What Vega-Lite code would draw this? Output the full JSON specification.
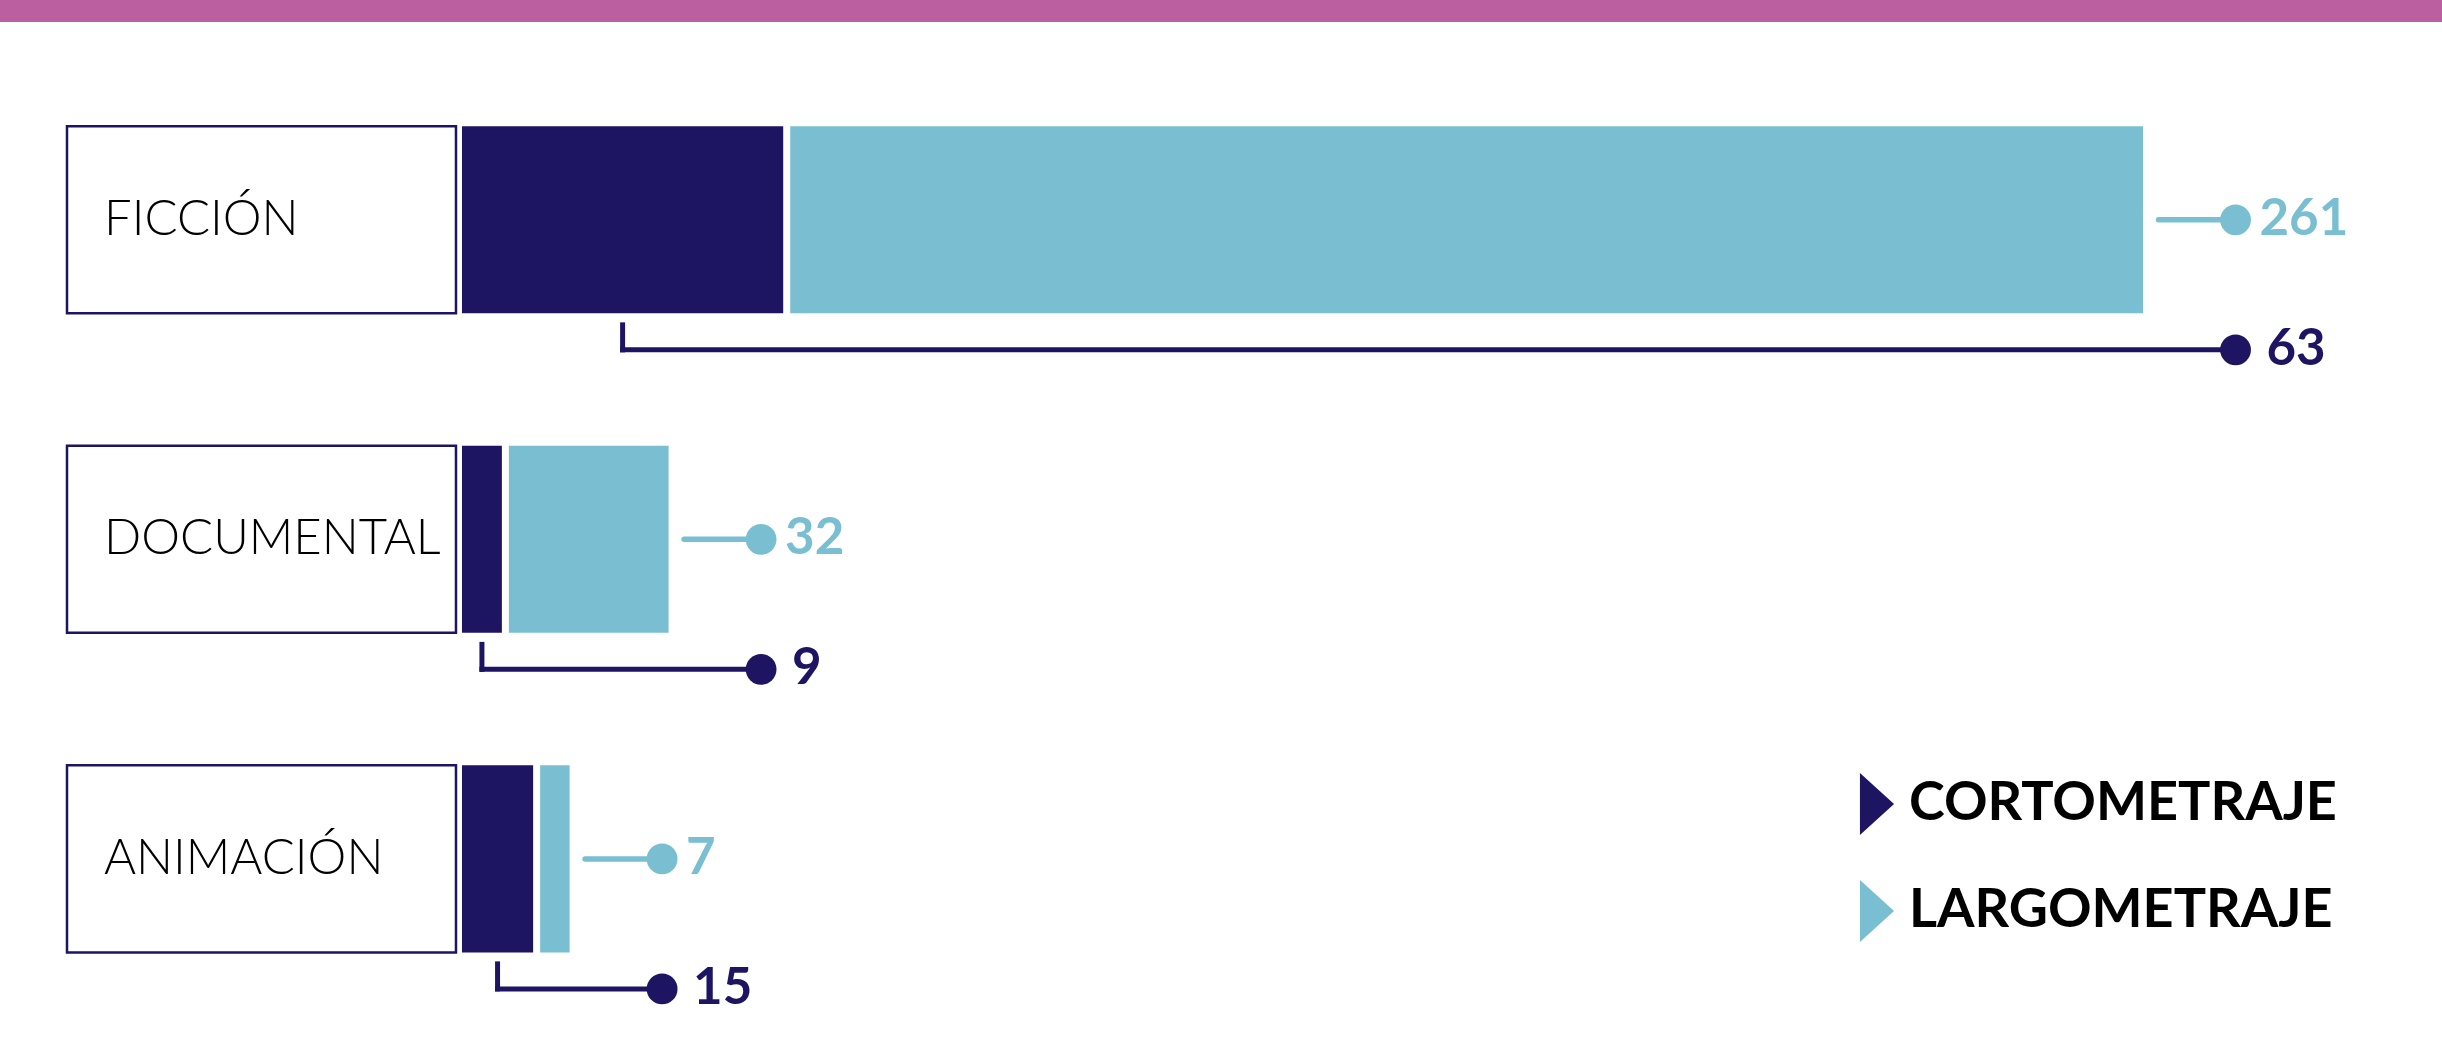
{
  "$schema": "https://vega.github.io/schema/vega-lite/v6.json",
  "width": 2442,
  "height": 1061,
  "autosize": {"type": "fit", "contains": "padding"},
  "padding": {"top": 22, "left": 0, "right": 0, "bottom": 0},
  "background": "#BB5FA0",
  "config": {"view": {"fill": "#FFFFFF", "stroke": null}, "font": "Lato"},
  "data": {
    "values": [
      {"categoria": "FICCIÓN", "tipo": "CORTOMETRAJE", "obras": 63},
      {"categoria": "FICCIÓN", "tipo": "LARGOMETRAJE", "obras": 261},
      {"categoria": "DOCUMENTAL", "tipo": "CORTOMETRAJE", "obras": 9},
      {"categoria": "DOCUMENTAL", "tipo": "LARGOMETRAJE", "obras": 32},
      {"categoria": "ANIMACIÓN", "tipo": "CORTOMETRAJE", "obras": 15},
      {"categoria": "ANIMACIÓN", "tipo": "LARGOMETRAJE", "obras": 7}
    ]
  },
  "transform": [
    {"joinaggregate": [{"op": "sum", "field": "obras", "as": "total"}], "groupby": ["categoria"]},
    {"stack": "obras", "groupby": ["categoria"], "sort": [{"field": "tipo", "order": "ascending"}], "as": ["o0", "o1"]}
  ],
  "encoding": {
    "y": {
      "field": "categoria",
      "type": "nominal",
      "sort": ["FICCIÓN", "DOCUMENTAL", "ANIMACIÓN"],
      "scale": {"paddingInner": 0.4147, "paddingOuter": 0.3333, "align": 0.49},
      "axis": null
    }
  },
  "layer": [
    {
      "transform": [{"filter": "datum.tipo === 'CORTOMETRAJE'"}],
      "mark": {"type": "bar", "fill": "#FFFFFF", "stroke": "#1D1462", "strokeWidth": 2.5},
      "encoding": {
        "x": {"datum": -75.14, "type": "quantitative", "scale": {"domain": [-88.0, 380.71], "nice": false, "zero": false}, "axis": null},
        "x2": {"datum": -0.48}
      }
    },
    {
      "transform": [{"filter": "datum.tipo === 'CORTOMETRAJE'"}],
      "mark": {"type": "text", "align": "left", "baseline": "middle", "font": "Lato", "fontWeight": 300, "fontSize": 49, "color": "#000000"},
      "encoding": {
        "x": {"datum": -68.04, "type": "quantitative", "scale": {"domain": [-88.0, 380.71], "nice": false, "zero": false}, "axis": null},
        "text": {"field": "categoria", "type": "nominal"}
      }
    },
    {
      "mark": {"type": "bar", "xOffset": 3.5, "x2Offset": -3.5},
      "encoding": {
        "x": {"field": "o0", "type": "quantitative", "scale": {"domain": [-88.0, 380.71], "nice": false, "zero": false}, "axis": null},
        "x2": {"field": "o1"},
        "color": {
          "field": "tipo",
          "type": "nominal",
          "scale": {"domain": ["CORTOMETRAJE", "LARGOMETRAJE"], "range": ["#1D1462", "#79BFD1"]},
          "legend": {
            "orient": "none",
            "legendX": 1846,
            "legendY": 751,
            "title": null,
            "symbolType": "M-0.55,-1L0.55,0L-0.55,1Z",
            "symbolSize": 3844,
            "symbolStrokeWidth": 0,
            "symbolOpacity": 1,
            "labelFont": "Lato",
            "labelFontSize": 54,
            "labelFontWeight": "bold",
            "labelColor": "#000000",
            "labelLimit": 0,
            "labelOffset": 1,
            "rowPadding": 45,
            "padding": 0
          }
        }
      }
    },
    {
      "transform": [{"filter": "datum.tipo === 'LARGOMETRAJE'"}],
      "layer": [
        {
          "mark": {"type": "rule", "color": "#79BFD1", "strokeWidth": 5.5, "strokeCap": "round", "xOffset": 12, "x2Offset": 89},
          "encoding": {
            "x": {"field": "o1", "type": "quantitative", "scale": {"domain": [-88.0, 380.71], "nice": false, "zero": false}, "axis": null},
            "x2": {"field": "o1"}
          }
        },
        {
          "mark": {"type": "point", "filled": true, "opacity": 1, "strokeWidth": 0, "color": "#79BFD1", "size": 950, "xOffset": 89},
          "encoding": {
            "x": {"field": "o1", "type": "quantitative", "scale": {"domain": [-88.0, 380.71], "nice": false, "zero": false}, "axis": null}
          }
        },
        {
          "mark": {"type": "text", "align": "left", "baseline": "middle", "dx": 113, "font": "Lato", "fontWeight": "bold", "fontSize": 51, "color": "#79BFD1"},
          "encoding": {
            "x": {"field": "o1", "type": "quantitative", "scale": {"domain": [-88.0, 380.71], "nice": false, "zero": false}, "axis": null},
            "text": {"field": "obras", "type": "quantitative"}
          }
        }
      ]
    },
    {
      "transform": [
        {"filter": "datum.tipo === 'CORTOMETRAJE'"},
        {"fold": ["o0", "o1"], "as": ["extremo", "valor"]},
        {"aggregate": [
          {"op": "mean", "field": "valor", "as": "centro"},
          {"op": "max", "field": "total", "as": "total"},
          {"op": "max", "field": "obras", "as": "obras"}
        ], "groupby": ["categoria"]}
      ],
      "layer": [
        {
          "mark": {"type": "rule", "color": "#1D1462", "strokeWidth": 5, "strokeCap": "square", "yOffset": 105, "y2Offset": 130},
          "encoding": {
            "x": {"field": "centro", "type": "quantitative", "scale": {"domain": [-88.0, 380.71], "nice": false, "zero": false}, "axis": null},
            "y2": {"field": "categoria"}
          }
        },
        {
          "mark": {"type": "rule", "color": "#1D1462", "strokeWidth": 5, "strokeCap": "square", "yOffset": 130, "x2Offset": 89},
          "encoding": {
            "x": {"field": "centro", "type": "quantitative", "scale": {"domain": [-88.0, 380.71], "nice": false, "zero": false}, "axis": null},
            "x2": {"field": "total"}
          }
        },
        {
          "mark": {"type": "point", "filled": true, "opacity": 1, "strokeWidth": 0, "color": "#1D1462", "size": 950, "xOffset": 89, "yOffset": 130},
          "encoding": {
            "x": {"field": "total", "type": "quantitative", "scale": {"domain": [-88.0, 380.71], "nice": false, "zero": false}, "axis": null}
          }
        },
        {
          "mark": {"type": "text", "align": "left", "baseline": "middle", "dx": 120, "dy": 130, "font": "Lato", "fontWeight": "bold", "fontSize": 51, "color": "#1D1462"},
          "encoding": {
            "x": {"field": "total", "type": "quantitative", "scale": {"domain": [-88.0, 380.71], "nice": false, "zero": false}, "axis": null},
            "text": {"field": "obras", "type": "quantitative"}
          }
        }
      ]
    }
  ]
}
